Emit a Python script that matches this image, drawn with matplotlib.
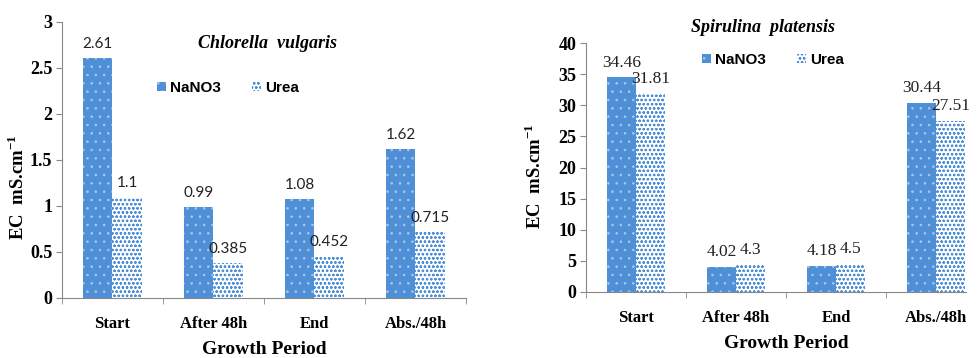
import numpy as np
import matplotlib
matplotlib.use("Agg")
import matplotlib.pyplot as plt
from matplotlib.patches import Patch

plt.rcParams['mathtext.fontset'] = 'custom'
plt.rcParams['mathtext.rm'] = 'Liberation Serif'
plt.rcParams['mathtext.bf'] = 'Liberation Serif:bold'
plt.rcParams['hatch.linewidth'] = 0.6

# ------------------ Data ------------------
periods = ["Start", "After 48h", "End", "Abs./48h"]
chlorella_nano3 = [2.61, 0.99, 1.08, 1.62]
chlorella_urea = [1.1, 0.385, 0.452, 0.715]
spirulina_nano3 = [34.46, 4.02, 4.18, 30.44]
spirulina_urea = [31.81, 4.3, 4.5, 27.51]

BLUE = '#4F8FD6'
DOT = '#A9C8EE'
SERIF = 'Liberation Serif'
W = 0.29

fig = plt.figure(figsize=(9.79, 3.58), dpi=100)
axL = fig.add_axes([62/979, 1-298/358, 404/979, 276/358])
axR = fig.add_axes([586/979, 1-292/358, 380/979, 249/358])


def draw_panel(ax, nano3, urea, ymax, ystep, title, title_xy, lab_font, lab_size):
    x = np.arange(len(periods))
    b1 = ax.bar(x - W/2, nano3, W, color=BLUE, edgecolor=DOT, linewidth=0, hatch='..')
    b2 = ax.bar(x + W/2, urea, W, color='white', edgecolor=BLUE, linewidth=0, hatch='oooo')
    # value labels above each bar
    for bars, vals in ((b1, nano3), (b2, urea)):
        for rect, v in zip(bars, vals):
            ax.annotate(f"{v:g}", (rect.get_x() + rect.get_width()/2, v),
                        xytext=(0, 5), textcoords='offset points',
                        ha='center', va='bottom', family=lab_font, fontsize=lab_size,
                        color='#222222')
    ticks = np.arange(0, ymax + ystep/2, ystep)
    ax.set_ylim(0, ymax)
    ax.set_yticks(ticks)
    ax.set_yticklabels([f"{t:g}" for t in ticks], family=SERIF, fontweight='bold', fontsize=13)
    ax.set_xticks(x)
    ax.set_xticklabels(periods, family=SERIF, fontweight='bold', fontsize=12)
    ax.set_xticks(np.arange(-0.5, len(periods)), minor=True)
    ax.tick_params(axis='x', which='major', length=0, pad=13)
    ax.tick_params(axis='x', which='minor', length=4, color='#888888')
    ax.tick_params(axis='y', length=4, color='#888888', pad=3)
    for s in ('top', 'right'):
        ax.spines[s].set_visible(False)
    for s in ('left', 'bottom'):
        ax.spines[s].set_color('#888888')
    ax.text(title_xy[0], title_xy[1], title, transform=fig.transFigure,
            family=SERIF, fontweight='bold', style='italic', fontsize=13,
            ha='center', va='center')


draw_panel(axL, chlorella_nano3, chlorella_urea, 3, 0.5,
           "Chlorella  vulgaris", (268/979, 1-43/358), 'Lato', 11)
axL.set_xlim(-0.5, 3.5)
draw_panel(axR, spirulina_nano3, spirulina_urea, 40, 5,
           "Spirulina  platensis", (763/979, 1-27/358), SERIF, 12.5)
axR.set_xlim(-0.5, 3.3)

# axis labels
ylab = r'EC  mS.cm$^{\mathbf{-1}}$'
for lx, ly in ((18/979, 1-187/358), (535/979, 1-176/358)):
    fig.text(lx, ly, ylab, rotation=90, ha='center', va='center', fontsize=13.5,
             family=SERIF, fontweight='bold')
fig.text(264/979, 1-350/358, "Growth Period", family=SERIF, fontweight='bold',
         fontsize=14, ha='center', va='center')
fig.text(786/979, 1-343/358, "Growth Period", family=SERIF, fontweight='bold',
         fontsize=14, ha='center', va='center')

# legends
handles = [Patch(facecolor=BLUE, edgecolor=DOT, linewidth=0, hatch='..'),
           Patch(facecolor='white', edgecolor=BLUE, linewidth=0, hatch='oooo')]
for cx, cy in ((228/979, 1-88/358), (773/979, 1-60/358)):
    fig.legend(handles, ["NaNO3", "Urea"], loc='center', bbox_to_anchor=(cx, cy),
               ncol=2, frameon=False, handlelength=0.6, handleheight=0.6,
               handletextpad=0.3, columnspacing=2.0,
               prop={'family': 'Liberation Sans', 'weight': 'bold', 'size': 11})

fig.savefig("out.png", dpi=100)
